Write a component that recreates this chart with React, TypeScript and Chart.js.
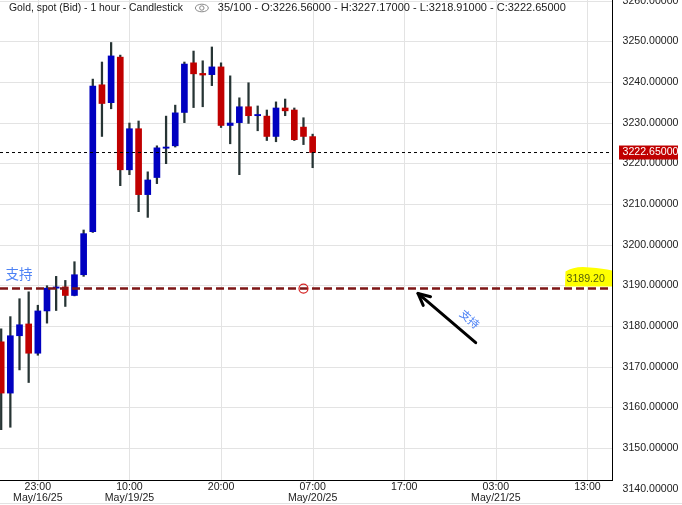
import { useEffect, useRef } from "react";
import { Chart, registerables } from "chart.js";

Chart.register(...registerables);

// ---- data (hourly candles, index 0 = 19:00 May/16/25) ----
const opens = [3176.1, 3163.5, 3177.6, 3180.5, 3173.3, 3183.7, 3189.3, 3189.6, 3187.5, 3192.6, 3203.2, 3239.3, 3234.9, 3246.1, 3218.4, 3228.5, 3212.3, 3216.5, 3223.7, 3224.3, 3232.5, 3244.7, 3242.1, 3241.8, 3243.7, 3229.3, 3230.0, 3233.9, 3231.7, 3231.6, 3226.6, 3233.6, 3233.1, 3228.9, 3226.56];
const highs = [3179.3, 3182.3, 3186.7, 3188.4, 3185.1, 3189.9, 3192.2, 3191.2, 3195.8, 3203.6, 3240.7, 3244.9, 3249.7, 3246.6, 3229.9, 3230.4, 3217.9, 3224.3, 3231.6, 3234.3, 3244.9, 3247.6, 3245.2, 3248.6, 3244.7, 3241.5, 3236.1, 3239.8, 3234.1, 3233.1, 3235.1, 3235.8, 3233.6, 3231.2, 3227.17];
const lows = [3154.5, 3155.1, 3169.2, 3166.1, 3172.8, 3180.7, 3183.8, 3184.8, 3187.4, 3192.2, 3203.0, 3226.6, 3233.4, 3214.5, 3217.2, 3208.1, 3206.7, 3215.0, 3219.9, 3224.0, 3230.0, 3233.7, 3233.9, 3239.1, 3228.8, 3224.8, 3217.2, 3229.8, 3228.0, 3225.6, 3225.3, 3231.7, 3225.6, 3224.6, 3218.91];
const closes = [3163.5, 3177.6, 3180.3, 3173.3, 3183.7, 3189.3, 3189.6, 3187.5, 3192.6, 3202.7, 3239.0, 3234.7, 3246.4, 3218.4, 3228.5, 3212.3, 3215.9, 3223.8, 3224.0, 3232.4, 3244.4, 3242.0, 3241.7, 3243.7, 3229.3, 3229.9, 3233.9, 3231.7, 3232.0, 3226.6, 3233.6, 3232.9, 3225.8, 3226.6, 3222.65];

const xTickIndex = [4, 14, 24, 34, 44, 54, 64];
const xTickTimes = ["23:00", "10:00", "20:00", "07:00", "17:00", "03:00", "13:00"];
const xTickDates = ["May/16/25", "May/19/25", "", "May/20/25", "", "May/21/25", ""];
const yTicks = [3140, 3150, 3160, 3170, 3180, 3190, 3200, 3210, 3220, 3230, 3240, 3250, 3260];

const xMin = -0.13;
const xMax = 66.68;
const yMin = 3142.13;
const yMax = 3260.15;

const lastPrice = 3222.65;
const supportLevel = 3189.2;
const supportLabel = "3189.20";
const markerIndex = 33;
const arrowTip = { x: 45.5, y: 3188.0 };
const arrowTail = { x: 51.8, y: 3175.9 };
const supportText = "支持";
const header1 = "Gold, spot (Bid) - 1 hour - Candlestick";
const header2 = "35/100 - O:3226.56000 - H:3227.17000 - L:3218.91000 - C:3222.65000";

const BLUE = "#0000c0";
const RED = "#c00000";
const WICK = "#263434";
const FONT = '"Liberation Sans", Arial, sans-serif';
const CJK = '"Noto Sans CJK SC", sans-serif';

const decor = {
  id: "decor",
  beforeDraw(chart: any) {
    const c = chart.ctx;
    c.save();
    c.fillStyle = "#fff";
    c.fillRect(0, 0, chart.width, chart.height);
    c.restore();
  },
  beforeDatasetsDraw(chart: any) {
    const c = chart.ctx;
    const a = chart.chartArea;
    const xs = chart.scales.x;
    const ys = chart.scales.y;
    c.save();
    c.strokeStyle = "#e3e3e3";
    c.lineWidth = 1;
    c.beginPath();
    for (const v of yTicks) {
      const p = Math.round(ys.getPixelForValue(v)) + 0.5;
      if (p < a.top || p > a.bottom) continue;
      c.moveTo(a.left, p);
      c.lineTo(a.right, p);
    }
    for (const i of xTickIndex) {
      const p = Math.round(xs.getPixelForValue(i)) + 0.5;
      c.moveTo(p, a.top);
      c.lineTo(p, a.bottom);
    }
    c.stroke();
    c.restore();
  },
  afterDatasetsDraw(chart: any) {
    const c = chart.ctx;
    const a = chart.chartArea;
    const xs = chart.scales.x;
    const ys = chart.scales.y;
    c.save();
    // yellow highlight label
    const sy = ys.getPixelForValue(supportLevel);
    c.fillStyle = "#ffff00";
    c.beginPath();
    c.moveTo(565, sy - 2);
    c.lineTo(565.5, sy - 17);
    c.quadraticCurveTo(575, sy - 23, 590, sy - 21);
    c.quadraticCurveTo(603, sy - 20, a.right, sy - 18);
    c.lineTo(a.right, sy - 2);
    c.closePath();
    c.fill();
    c.fillStyle = "#56600a";
    c.font = `10.6px ${FONT}`;
    c.textBaseline = "middle";
    c.textAlign = "left";
    c.fillText(supportLabel, 566.5, sy - 9.5);

    // left support text
    c.fillStyle = "#4d82f5";
    c.font = `13.5px ${CJK}`;
    c.fillText(supportText, 5.5, sy - 14.5);

    // arrow
    const tx = xs.getPixelForValue(arrowTip.x);
    const ty = ys.getPixelForValue(arrowTip.y);
    const bx = xs.getPixelForValue(arrowTail.x);
    const by = ys.getPixelForValue(arrowTail.y);
    const ang = Math.atan2(by - ty, bx - tx);
    c.strokeStyle = "#000";
    c.lineWidth = 3;
    c.lineCap = "round";
    c.lineJoin = "round";
    c.beginPath();
    c.moveTo(bx, by);
    c.lineTo(tx, ty);
    c.stroke();
    const hl = 13;
    c.beginPath();
    c.moveTo(tx + hl * Math.cos(ang - 0.45), ty + hl * Math.sin(ang - 0.45));
    c.lineTo(tx, ty);
    c.lineTo(tx + hl * Math.cos(ang + 0.45), ty + hl * Math.sin(ang + 0.45));
    c.stroke();

    // rotated text along the arrow
    const mx = (tx + bx) / 2;
    const my = (ty + by) / 2;
    c.save();
    c.translate(mx + 23, my + 1);
    c.rotate(ang);
    c.fillStyle = "#4d82f5";
    c.font = `11px ${CJK}`;
    c.textAlign = "center";
    c.textBaseline = "middle";
    c.fillText(supportText, 0, 0);
    c.restore();
    c.restore();
  },
  afterDraw(chart: any) {
    const c = chart.ctx;
    const a = chart.chartArea;
    const xs = chart.scales.x;
    const ys = chart.scales.y;
    c.save();
    // axis lines
    c.strokeStyle = "#000";
    c.lineWidth = 1;
    c.beginPath();
    c.moveTo(a.left, Math.round(a.bottom) + 0.5);
    c.lineTo(a.right + 1, Math.round(a.bottom) + 0.5);
    c.moveTo(Math.round(a.right) + 0.5, 0);
    c.lineTo(Math.round(a.right) + 0.5, a.bottom + 1);
    c.stroke();

    // bottom faint border
    c.strokeStyle = "#e2e2e2";
    c.beginPath();
    c.moveTo(0, chart.height - 1.5);
    c.lineTo(chart.width, chart.height - 1.5);
    c.stroke();

    // y labels
    c.fillStyle = "#222";
    c.font = `10.6px ${FONT}`;
    c.textAlign = "left";
    c.textBaseline = "middle";
    for (const v of yTicks) {
      const p = ys.getPixelForValue(v);
      c.fillText(v.toFixed(5), a.right + 10.5, p);
    }

    // x labels
    c.textAlign = "center";
    xTickIndex.forEach((i, k) => {
      const p = xs.getPixelForValue(i);
      c.fillText(xTickTimes[k], p, a.bottom + 7);
      if (xTickDates[k]) c.fillText(xTickDates[k], p, a.bottom + 18);
    });

    // last price label
    const ly = ys.getPixelForValue(lastPrice);
    c.fillStyle = RED;
    c.fillRect(a.right + 7, ly - 7, 59, 14);
    c.fillStyle = "#fff";
    c.textAlign = "left";
    c.fillText(lastPrice.toFixed(5), a.right + 10.5, ly);

    // header
    c.fillStyle = "#1a1a1a";
    c.font = `10.4px ${FONT}`;
    c.textAlign = "left";
    c.textBaseline = "middle";
    const hx = 9;
    c.fillText(header1, hx, 8);
    const w1 = c.measureText(header1).width;
    const ex = hx + w1 + 19;
    c.strokeStyle = "#8a8a8a";
    c.lineWidth = 1;
    c.beginPath();
    c.ellipse(ex, 8, 6.5, 3.8, 0, 0, Math.PI * 2);
    c.stroke();
    c.beginPath();
    c.arc(ex, 8, 2.2, 0, Math.PI * 2);
    c.stroke();
    c.font = `11px ${FONT}`;
    c.fillText(header2, ex + 16, 8);
    c.restore();
  },
};

export default function App() {
  const ref = useRef<HTMLCanvasElement | null>(null);
  useEffect(() => {
    if (!ref.current) return;
    const bodyColors = opens.map((o, i) => (closes[i] >= o ? BLUE : RED));
    const chart = new Chart(ref.current, {
      type: "bar",
      data: {
        datasets: [
          {
            type: "bar",
            label: "body",
            data: opens.map((o, i) => ({ x: i, y: [o, closes[i]] })) as any,
            backgroundColor: bodyColors,
            borderWidth: 0,
            barThickness: 6,
            minBarLength: 1,
            grouped: false,
            order: 1,
          } as any,
          {
            type: "bar",
            label: "wick",
            data: lows.map((l, i) => ({ x: i, y: [l, highs[i]] })) as any,
            backgroundColor: WICK,
            borderWidth: 0,
            barThickness: 1.6,
            grouped: false,
            order: 2,
          } as any,
          {
            type: "line",
            label: "last",
            data: [
              { x: xMin, y: lastPrice },
              { x: xMax, y: lastPrice },
            ],
            borderColor: "#000",
            borderWidth: 1,
            borderDash: [3, 3],
            pointRadius: 0,
            order: 0,
          } as any,
          {
            type: "line",
            label: "support",
            data: [
              { x: xMin, y: supportLevel },
              { x: xMax, y: supportLevel },
            ],
            borderColor: "#7e1616",
            borderWidth: 2.5,
            borderDash: [8, 4],
            pointRadius: 0,
            order: 0,
          } as any,
          {
            type: "line",
            label: "marker",
            data: [{ x: markerIndex, y: supportLevel }],
            showLine: false,
            pointRadius: 4.5,
            pointBorderWidth: 1.2,
            pointBorderColor: "#d42020",
            pointBackgroundColor: "rgba(0,0,0,0)",
            order: -1,
          } as any,
        ],
      },
      options: {
        responsive: false,
        animation: false,
        devicePixelRatio: 1,
        layout: { autoPadding: false, padding: { left: 0, top: 0, right: 70, bottom: 25 } },
        scales: {
          x: { type: "linear", min: xMin, max: xMax, offset: false, display: false },
          y: { type: "linear", min: yMin, max: yMax, offset: false, display: false },
        },
        plugins: {
          legend: { display: false },
          tooltip: { enabled: false },
        },
        events: [],
      },
      plugins: [decor],
    });
    return () => chart.destroy();
  }, []);
  return (
    <div style={{ position: "absolute", left: 0, top: 0, width: 682, height: 505 }}>
      <canvas ref={ref} width={682} height={505} style={{ width: 682, height: 505 }} />
    </div>
  );
}
